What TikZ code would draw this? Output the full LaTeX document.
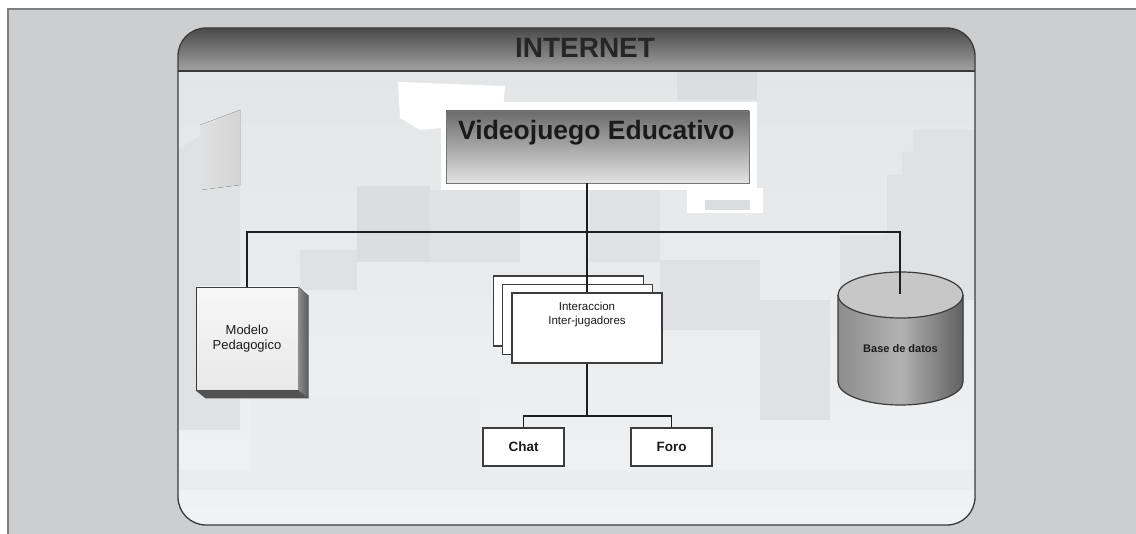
\documentclass[tikz,border=0pt]{standalone}
\usepackage{fontspec}
\setmainfont{Liberation Sans}
\usetikzlibrary{calc}
\definecolor{outerc}{HTML}{CDCECF}
\definecolor{framec}{HTML}{7E7E7E}
\definecolor{panelA}{HTML}{E4E5E6}
\definecolor{panelB}{HTML}{F1F2F3}
\definecolor{hdrA}{HTML}{4A4A4A}
\definecolor{hdrB}{HTML}{A2A2A2}
\definecolor{panelline}{HTML}{3A3A3A}
\definecolor{linec}{HTML}{1E1E1E}
\definecolor{boxc}{HTML}{3C3C3C}
\definecolor{txt}{HTML}{1A1A1A}
\definecolor{blkA}{HTML}{DCDDDE}
\definecolor{blkB}{HTML}{E0E1E2}
\definecolor{blkC}{HTML}{EBECED}
\begin{document}
\begin{tikzpicture}[x=1pt,y=-1pt,
  conn/.style={draw=linec,line width=1.3pt},
  stackbox/.style={draw=boxc,line width=1.2pt,fill=white,inner sep=0pt,minimum width=150pt,minimum height=70pt},
  leafbox/.style={draw=boxc,line width=1.2pt,fill=white,inner sep=0pt,minimum width=81pt,minimum height=38pt,font=\fontsize{13.5}{16}\selectfont\bfseries,text=txt},
  vjbox/.style={draw=boxc!70,line width=0.6pt,top color=black!58,bottom color=black!11,inner sep=0pt,minimum width=303pt,minimum height=72pt},
  modbox/.style={draw=boxc,line width=0.8pt,top color=black!3,bottom color=black!9,inner sep=0pt,minimum width=102pt,minimum height=103pt,align=center,font=\fontsize{13}{15}\selectfont,text=txt}]
\useasboundingbox (0,0) rectangle (1136,534);
\fill[white] (0,0) rectangle (1136,534);
\fill[outerc] (8,9) rectangle (1136,534);
\draw[framec,line width=1.5pt] (8,534) -- (8,9) -- (1136,9);
% panel
\begin{scope}
\clip[rounded corners=28pt] (178,28) rectangle (975,525);
\fill[top color=panelA,bottom color=panelB] (178,71) rectangle (975,525);
% background blocks
\fill[blkB] (178,150) -- (240,110) -- (240,430) -- (178,430) -- cycle;
\fill[left color=blkB,right color=black!17] (200,125) -- (240,110) -- (240,185) -- (200,190) -- cycle;
\fill[blkA] (357,186) rectangle (430,262);
\fill[blkB] (430,190) rectangle (520,262);
\fill[blkB] (590,186) rectangle (660,262);
\fill[blkA] (677,71) rectangle (757,100);
\fill[blkB] (913,130) -- (975,130) -- (975,300) -- (887,300) -- (887,175) -- (902,175) -- (902,152) -- (913,152) -- cycle;
\fill[blkB] (840,235) rectangle (887,300);
\fill[blkB] (760,300) rectangle (830,420);
\fill[blkB] (660,260) rectangle (760,330);
\fill[blkC] (250,395) rectangle (480,470);
\fill[blkB] (300,250) rectangle (357,290);
\fill[white] (398,82) -- (505,86) -- (503,108) -- (441,102) -- (441,128) -- (420,130) -- (400,118) -- cycle;
\fill[white] (441,102) rectangle (757,190);
\fill[white] (687,188) rectangle (763,213);
\fill[blkA] (705,200) rectangle (750,210);
\fill[blkC] (178,470) rectangle (975,490);
% header
\fill[top color=hdrA,bottom color=hdrB] (178,28) rectangle (975,71);
\end{scope}
\draw[panelline,line width=1.2pt] (178,71) -- (975,71);
\draw[panelline,line width=1.3pt,rounded corners=28pt] (178,28) rectangle (975,525);
\node[font=\fontsize{28}{32}\selectfont\bfseries,text=black!85] (inet) at (585,48) {INTERNET};
% top box
\node[vjbox] (vj) at (597.5,147) {};
\node[anchor=base west,font=\fontsize{26.5}{30}\selectfont\bfseries,text=txt,inner sep=0pt] (vjt) at (458,140) {Videojuego Educativo};
% modelo
\node[modbox] (modelo) at (247,338.5) {Modelo\\Pedagogico};
\fill[left color=black!45,right color=black!65] (modelo.north east) -- ++(10,9) -- ($(modelo.south east)+(10,8)$) -- (modelo.south east) -- cycle;
\fill[black!68] (modelo.south west) -- (modelo.south east) -- ++(10,8) -- ($(modelo.south west)+(10,8)$) -- cycle;
% stack
\node[stackbox] (back) at (568.5,311) {};
\node[stackbox] (mid) at (577.5,319.5) {};
\node[stackbox] (front) at (587,328) {};
\node[align=center,font=\fontsize{11.5}{14.5}\selectfont,text=txt] (fronttxt) at (587,314.5) {Interaccion\\Inter-jugadores};
% leaves
\node[leafbox] (chat) at (523.5,447) {Chat};
\node[leafbox] (foro) at (671.5,447) {Foro};
% cylinder
\fill[left color=black!45,right color=black!62,middle color=black!30] (838,295) -- (838,382) arc[start angle=180,end angle=360,x radius=62.5pt,y radius=23pt] -- (963,295) -- cycle;
\draw[boxc,line width=1.2pt] (838,295) -- (838,382) arc[start angle=180,end angle=360,x radius=62.5pt,y radius=23pt] -- (963,295);
\filldraw[fill=black!22,draw=boxc,line width=1.2pt] (900.5,295) ellipse[x radius=62.5pt,y radius=23pt];
\node[font=\fontsize{11}{13}\selectfont\bfseries,text=txt] (db) at (900.5,349) {Base de datos};
\coordinate (dbtop) at (900,294);
% connectors
\coordinate (bus) at (587,232);
\coordinate (split) at (587,416);
\draw[conn] (vj.south -| front.north) -- (front.north);
\draw[conn] (modelo.north) -- (modelo.north |- bus) -- (bus -| dbtop) -- (dbtop);
\draw[conn] (front.south) -- (split);
\draw[conn] (chat.north) |- (split) -| (foro.north);
\end{tikzpicture}
\end{document}
